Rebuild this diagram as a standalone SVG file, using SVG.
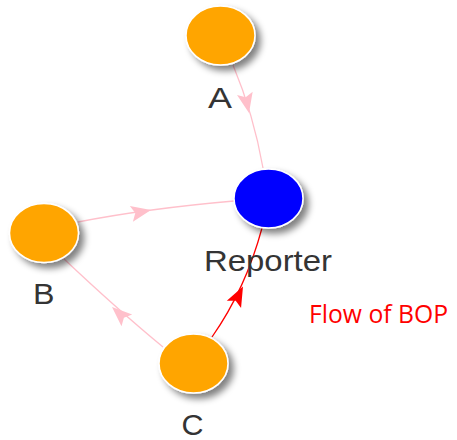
<svg xmlns="http://www.w3.org/2000/svg" width="457" height="440" viewBox="0 0 457 440">
<defs>
<filter id="sh" x="-50%" y="-50%" width="200%" height="200%">
<feGaussianBlur in="SourceAlpha" stdDeviation="3.5"/>
<feOffset dx="5" dy="5" result="b"/>
<feComponentTransfer><feFuncA type="linear" slope="0.5"/></feComponentTransfer>
<feMerge><feMergeNode/><feMergeNode in="SourceGraphic"/></feMerge>
</filter>
<path id="arr" d="M0,0 L-20,-8 L-16,0 L-20,8 Z"/>
</defs>
<style>
.node{stroke:#ffffff;stroke-width:1.5;filter:url(#sh)}
.orange{fill:#ffa500}
.blue{fill:#0000ff}
.lbl{font-family:"Liberation Sans",Arial,sans-serif;font-size:29px;fill:#343434;text-anchor:middle}
.e{fill:none;stroke-width:1.3}
.pink{stroke:#ffc0cb}
.red{stroke:#ff0000}
.pa{fill:#ffc0cb}
.ra{fill:#ff0000}
</style>
<g id="connectors">
<path class="e pink" d="M233,65 Q253.6,114.6 263,168"/>
<use href="#arr" class="pa" transform="translate(249,113) rotate(78)"/>
<path class="e pink" d="M78,222 Q146,208.7 234,201"/>
<use href="#arr" class="pa" transform="translate(151,210) rotate(-11)"/>
<path class="e pink" d="M163,347 Q118,310 63,258"/>
<use href="#arr" class="pa" transform="translate(112,307) rotate(222)"/>
<path class="e red" d="M212,337 Q245.6,289 262,228"/>
<use href="#arr" class="ra" transform="translate(243,286.5) rotate(-63)"/>
</g>
<g id="node-A">
<ellipse class="node orange" cx="220.5" cy="35.5" rx="34.5" ry="29.5"/>
<text class="lbl" x="220" y="108" textLength="24" lengthAdjust="spacingAndGlyphs">A</text>
</g>
<g id="node-Reporter">
<ellipse class="node blue" cx="268.5" cy="198.5" rx="34.5" ry="29.5"/>
<text class="lbl" x="268" y="271" textLength="128" lengthAdjust="spacingAndGlyphs">Reporter</text>
</g>
<g id="node-B">
<ellipse class="node orange" cx="44" cy="233" rx="34.5" ry="29.5"/>
<text class="lbl" x="43.7" y="304" textLength="21.5" lengthAdjust="spacingAndGlyphs">B</text>
</g>
<g id="node-C">
<ellipse class="node orange" cx="193.5" cy="363.5" rx="34.5" ry="29.5"/>
<text class="lbl" x="192.5" y="435" textLength="22" lengthAdjust="spacingAndGlyphs">C</text>
</g>
<text x="309" y="323" font-family="'Open Sans','Noto Sans',sans-serif" font-size="25" fill="#ff0000" textLength="139" lengthAdjust="spacingAndGlyphs">Flow of BOP</text>
</svg>
